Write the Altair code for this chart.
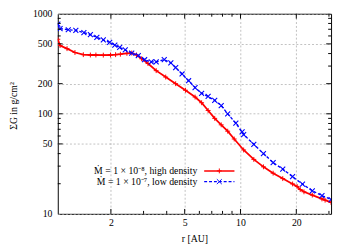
import altair as alt
import pandas as pd

# ---- data ----
r_high = [1.035, 1.064, 1.16, 1.28, 1.42, 1.55, 1.66, 1.82, 1.99, 2.12, 2.25, 2.44, 2.59,
          2.75, 2.93, 3.17, 3.51, 3.95, 4.47, 5.05, 5.69, 6.17, 6.69, 7.26, 7.87, 8.53,
          9.25, 10.4, 11.8, 13.3, 15.0, 16.9, 19.1, 20.2, 21.0, 22.0, 24.4, 27.5, 28.6, 30.8]
sigma_high = [556, 481, 448, 410, 390, 387, 387, 386, 387, 390, 394, 402, 405,
              387, 355, 318, 270, 233, 200, 172, 147, 129, 108, 90, 77.6, 67,
              56, 43.5, 35, 29.5, 25.5, 22.5, 19.9, 18.8, 17.5, 16.6, 15.4, 14.1, 13.7, 13.0]

r_low = [1.035, 1.064, 1.178, 1.294, 1.43, 1.55, 1.68, 1.82, 1.97, 2.10, 2.23, 2.39, 2.59,
         2.81, 3.04, 3.30, 3.51, 3.88, 4.21, 4.47, 4.84, 5.25, 5.69, 6.17, 6.69, 7.26,
         7.87, 8.53, 9.44, 10.2, 10.4, 11.8, 13.3, 15.0, 16.9, 19.1, 21.6, 24.4, 27.5, 30.8]
sigma_low = [787, 711, 692, 681, 647, 620, 581, 548, 518, 485, 461, 435, 404,
             382, 347, 330, 330, 348, 323, 290, 250, 214, 183, 160, 149, 136,
             121, 100, 80.5, 66, 62, 49.5, 40, 32.5, 28, 23.5, 19.8, 17.0, 15.2, 13.9]

legend_labels = ["Ṁ = 1 × 10⁻⁸, high density", "Ṁ = 1 × 10⁻⁷, low density"]

x_major = [2, 5, 10, 20]
x_minor = [3, 4, 6, 7, 8, 9, 30]
y_major = [10, 50, 100, 200, 500, 1000]
y_minor = [20, 30, 40, 60, 70, 80, 90, 300, 400, 600, 700, 800, 900]

# ---- layout / style ----
W, H = 280, 205
FONT = "Liberation Serif"
RED = "#ff0000"
BLUE = "#0000ff"
PLUS = "M-1,0L1,0M0,-1L0,1"
CROSS = "M-1,-1L1,1M-1,1L1,-1"

xs = alt.Scale(type="log", domain=[1.034, 30.8], nice=False)
ys = alt.Scale(type="log", domain=[10, 1000], nice=False)

high = pd.DataFrame({"r": r_high, "s": sigma_high})
low = pd.DataFrame({"r": r_low, "s": sigma_low})

x_axis = alt.Axis(values=x_major, format="d", title="r [AU]", grid=True, ticks=False,
                  tickSize=0, domain=False, labelPadding=4, titleY=25,
                  titleBaseline="middle")
y_axis = alt.Axis(values=y_major, format="d", title="ΣG in g/cm²", grid=True, ticks=False,
                  tickSize=0, domain=False, labelPadding=6, titleX=-45, titleY=94,
                  titleAngle=-90, titleBaseline="middle", titleAlign="center")

X = alt.X("r:Q", scale=xs, axis=x_axis, title="r [AU]")
Y = alt.Y("s:Q", scale=ys, axis=y_axis, title="ΣG in g/cm²")

red_line = alt.Chart(high).mark_line(color=RED, strokeWidth=1.8, clip=True).encode(x=X, y=Y)
red_pts = alt.Chart(high).mark_point(shape=PLUS, size=25, filled=False, color=RED,
                                     strokeWidth=1, opacity=1, clip=True).encode(x=X, y=Y)
blue_line = alt.Chart(low).mark_line(color=BLUE, strokeWidth=1.4, strokeDash=[3, 2],
                                     clip=True).encode(x=X, y=Y)
blue_pts = alt.Chart(low).mark_point(shape=CROSS, size=26, filled=False, color=BLUE,
                                     strokeWidth=1.1, opacity=1, clip=True).encode(x=X, y=Y)

# inward tick marks on all four sides
def xticks(vals, length):
    df = pd.DataFrame({"r": vals})
    bot = alt.Chart(df).mark_rule(color="black", strokeWidth=1).encode(
        x=X, y=alt.value(H), y2=alt.value(H - length))
    top = alt.Chart(df).mark_rule(color="black", strokeWidth=1).encode(
        x=X, y=alt.value(0), y2=alt.value(length))
    return [bot, top]

def yticks(vals, length):
    df = pd.DataFrame({"s": vals})
    left = alt.Chart(df).mark_rule(color="black", strokeWidth=1).encode(
        y=Y, x=alt.value(0), x2=alt.value(length))
    right = alt.Chart(df).mark_rule(color="black", strokeWidth=1).encode(
        y=Y, x=alt.value(W), x2=alt.value(W - length))
    return [left, right]

tick_layers = (xticks(x_major, 5) + xticks(x_minor, 3)
               + yticks(y_major[1:-1], 5) + yticks(y_minor, 3))

# legend (gnuplot style: text on the left, sample on the right)
leg_y = [161, 172]
legend_layers = []
for i, (lab, col, shp, dash) in enumerate([(legend_labels[0], RED, PLUS, [1, 0]),
                                            (legend_labels[1], BLUE, CROSS, [3, 2])]):
    df = pd.DataFrame({"t": [lab]})
    legend_layers.append(alt.Chart(df).mark_text(align="right", baseline="middle",
                                                 font=FONT, fontSize=10, color="black").encode(
        text="t:N", x=alt.value(143), y=alt.value(leg_y[i])))
    legend_layers.append(alt.Chart(df).mark_rule(color=col, strokeWidth=1.5 if i == 0 else 1.2,
                                                 strokeDash=dash).encode(
        x=alt.value(150), x2=alt.value(181), y=alt.value(leg_y[i])))
    legend_layers.append(alt.Chart(df).mark_point(shape=shp, size=25, filled=False, color=col,
                                                  strokeWidth=1, opacity=1).encode(
        x=alt.value(165.5), y=alt.value(leg_y[i])))

chart = alt.layer(red_line, red_pts, blue_line, blue_pts, *tick_layers, *legend_layers).properties(
    width=W, height=H,
    autosize=alt.AutoSizeParams(type="none"),
    padding={"left": 51, "top": 3, "right": 3, "bottom": 28},
).configure_view(stroke="black", strokeWidth=1).configure_axis(
    labelFont=FONT, labelFontSize=10, labelColor="black",
    titleFont=FONT, titleFontSize=10, titleFontWeight="normal", titleColor="black",
    gridColor="#b0b0b0", gridDash=[2, 2], gridWidth=0.8,
)

chart.save("out.html", embed_options={"renderer": "svg", "actions": False})
